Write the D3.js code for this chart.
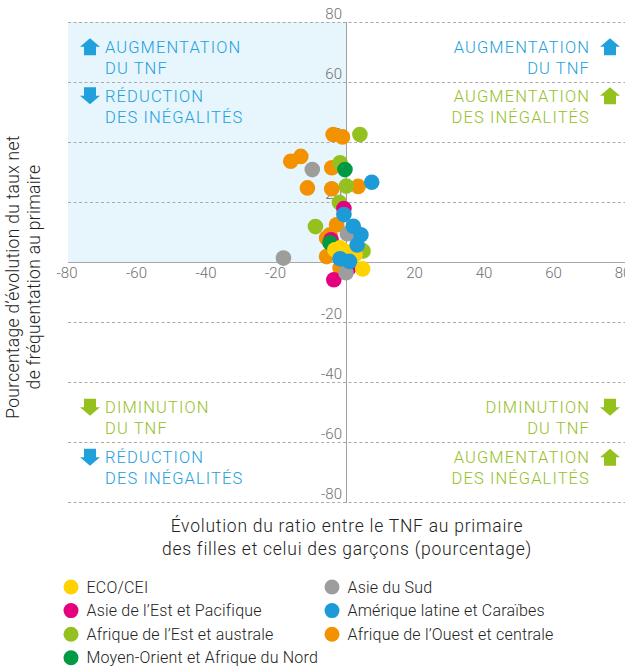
<!DOCTYPE html>
<html>
	<head>
		<meta charset="utf-8">
		<style>
			body, html { margin: 0; padding: 0; background: #fff; }
			text { font-family: Roboto, 'Open Sans', sans-serif; }
		</style>
	</head>
	<body>
		<svg id="svg" width="625" height="666"></svg>

		<script src="https://d3js.org/d3.v7.min.js"></script>
		<script>
			// ticks
			const xTicks = [-80, -60, -40, -20, 20, 40, 60, 80];
			const yTicks = [80, 60, 40, 20, -20, -40, -60, -80];

			// regions (legend order) and colours
			const regions = [
				'ECO/CEI',
				'Asie de l\u2019Est et Pacifique',
				'Afrique de l\u2019Est et australe',
				'Moyen-Orient et Afrique du Nord',
				'Asie du Sud',
				'Amérique latine et Caraïbes',
				'Afrique de l\u2019Ouest et centrale'
			];
			const colors = ['#ffd200', '#e5007e', '#95c11f', '#009a44', '#9d9d9c', '#1d9bd7', '#f39200'];

			// points per region: [change in gender ratio, change in net attendance]
			const ecoCei = [[-3.2, 4.1], [2.6, 2.4], [4.8, -2.3], [-1.7, 4.7], [0.3, 3.4]];
			const asieEstPacifique = [[-0.6, 17.8], [-3.5, -5.9], [-4.3, 7.4], [0.9, -1.9]];
			const afriqueEstAustrale = [[4.0, 42.5], [-1.7, 33.1], [0.1, 25.3], [-1.9, 19.8], [-8.8, 11.8], [4.9, 3.7]];
			const moyenOrient = [[-0.3, 30.8], [-4.6, 6.4]];
			const asieSud = [[-9.7, 30.8], [-18.0, 1.3], [0.4, 9.4], [0.0, -3.6]];
			const ameriqueLatine = [[7.4, 26.6], [-0.6, 15.8], [2.1, 11.9], [4.3, 9.1], [3.2, 5.7], [-1.7, 1.1], [1.0, 0.2]];
			const afriqueOuest = [[-3.7, 42.5], [-1.0, 41.7], [-15.9, 33.6], [-13.0, 35.2], [-4.1, 31.4], [-11.1, 24.7],
				[-4.1, 24.4], [3.5, 25.2], [-2.7, 12.4], [-4.6, 9.1], [-5.6, 8.0], [-5.6, 1.8], [-1.7, -1.9]];

			const seriesData = [ecoCei, asieEstPacifique, afriqueEstAustrale, moyenOrient, asieSud, ameriqueLatine, afriqueOuest];
			// drawing order (back to front)
			const drawOrder = [6, 2, 1, 4, 3, 0, 5];

			// quadrant annotations
			const quadrantLabels = [
				{ side: 'left', y0: 52.7, lines: ['AUGMENTATION', 'DU TNF'], color: 'blue', arrow: 'up' },
				{ side: 'left', y0: 101.7, lines: ['RÉDUCTION', 'DES INÉGALITÉS'], color: 'blue', arrow: 'down' },
				{ side: 'right', y0: 52.7, lines: ['AUGMENTATION', 'DU TNF'], color: 'blue', arrow: 'up' },
				{ side: 'right', y0: 101.7, lines: ['AUGMENTATION', 'DES INÉGALITÉS'], color: 'green', arrow: 'up' },
				{ side: 'left', y0: 413.3, lines: ['DIMINUTION', 'DU TNF'], color: 'green', arrow: 'down' },
				{ side: 'left', y0: 463.3, lines: ['RÉDUCTION', 'DES INÉGALITÉS'], color: 'blue', arrow: 'down' },
				{ side: 'right', y0: 413.3, lines: ['DIMINUTION', 'DU TNF'], color: 'green', arrow: 'down' },
				{ side: 'right', y0: 463.3, lines: ['AUGMENTATION', 'DES INÉGALITÉS'], color: 'green', arrow: 'up' }
			];
			const labelColors = { blue: '#22a0dc', green: '#95c11f' };

			const svg = d3.select('#svg');
			const plotLeft = 68, plotRight = 624, plotTop = 22, plotBottom = 502;

			const xscale = d3.scaleLinear().domain([-80, 80]).range([plotLeft, plotRight]);
			const yscale = d3.scaleLinear().domain([-80, 80]).range([plotBottom, plotTop]);

			// shaded quadrant (more attendance, less inequality)
			svg.append('rect')
				.attr('x', xscale(-80))
				.attr('y', yscale(80))
				.attr('width', xscale(0) - xscale(-80))
				.attr('height', yscale(0) - yscale(80))
				.attr('fill', '#e7f5fd');

			// dashed horizontal grid
			svg.append('g')
				.selectAll('line')
				.data(yTicks)
				.enter()
				.append('line')
				.attr('x1', plotLeft)
				.attr('x2', 625)
				.attr('y1', (d) => yscale(d) + 0.5)
				.attr('y2', (d) => yscale(d) + 0.5)
				.attr('stroke', '#aaa')
				.attr('stroke-width', 1)
				.attr('stroke-dasharray', '3,2.5');

			// axes through the origin
			svg.append('line')
				.attr('x1', plotLeft).attr('x2', 625)
				.attr('y1', yscale(0) + 0.5).attr('y2', yscale(0) + 0.5)
				.attr('stroke', '#a8a8a8');
			svg.append('line')
				.attr('x1', xscale(0) + 0.5).attr('x2', xscale(0) + 0.5)
				.attr('y1', plotTop).attr('y2', plotBottom + 1)
				.attr('stroke', '#a0a0a0');

			// tick labels
			svg.append('g')
				.selectAll('text')
				.data(xTicks)
				.enter()
				.append('text')
				.attr('x', (d) => xscale(d) - 1)
				.attr('y', yscale(0) + 16)
				.attr('text-anchor', 'middle')
				.attr('font-size', 15)
				.attr('font-weight', 300)
				.attr('fill', '#707070')
				.text((d) => d);
			svg.append('g')
				.selectAll('text')
				.data(yTicks)
				.enter()
				.append('text')
				.attr('x', xscale(0) - 4)
				.attr('y', (d) => yscale(d) - 3)
				.attr('text-anchor', 'end')
				.attr('font-size', 15)
				.attr('font-weight', 300)
				.attr('fill', '#707070')
				.text((d) => d);

			// quadrant labels with arrows
			const arrowPath = (cx, cy, dir) => {
				// house-shaped arrow, 20 wide, 17 tall, centred at cx,cy
				const s = dir === 'up' ? 1 : -1;
				const p = [[0, -8.5], [10, 0], [6, 0], [6, 8.5], [-6, 8.5], [-6, 0], [-10, 0]];
				return 'M' + p.map(([dx, dy]) => `${cx + dx},${cy + s * dy}`).join('L') + 'Z';
			};
			quadrantLabels.forEach((q) => {
				const col = labelColors[q.color];
				const g = svg.append('g');
				q.lines.forEach((line, i) => {
					g.append('text')
						.attr('x', q.side === 'left' ? 105 : 590)
						.attr('y', q.y0 + i * 20.8)
						.attr('text-anchor', q.side === 'left' ? 'start' : 'end')
						.attr('font-size', 16.5)
						.attr('font-weight', 300)
						.attr('letter-spacing', 1.1)
						.attr('fill', col)
						.text(line);
				});
				g.append('path')
					.attr('d', arrowPath(q.side === 'left' ? 90 : 610, q.y0 - 6, q.arrow))
					.attr('fill', col);
			});

			// scatter points
			const pointsG = svg.append('g');
			drawOrder.forEach((i) => {
				pointsG.append('g')
					.selectAll('circle')
					.data(seriesData[i])
					.enter()
					.append('circle')
					.attr('cx', (d) => xscale(d[0]))
					.attr('cy', (d) => yscale(d[1]))
					.attr('r', 7.8)
					.attr('fill', colors[i]);
			});

			// axis titles
			const yTitle = svg.append('text')
				.attr('transform', 'translate(0,277) rotate(-90)')
				.attr('text-anchor', 'middle')
				.attr('font-size', 17.5)
				.attr('font-weight', 300)
				.attr('letter-spacing', 0.3)
				.attr('fill', '#222');
			yTitle.append('tspan').attr('x', 0).attr('y', 19).text('Pourcentage d\u2019évolution du taux net');
			yTitle.append('tspan').attr('x', 0).attr('y', 40).text('de fréquentation au primaire');

			const xTitle = svg.append('text')
				.attr('text-anchor', 'middle')
				.attr('font-size', 17.5)
				.attr('font-weight', 300)
				.attr('letter-spacing', 0.75)
				.attr('fill', '#222');
			xTitle.append('tspan').attr('x', 347).attr('y', 532).text('Évolution du ratio entre le TNF au primaire');
			xTitle.append('tspan').attr('x', 347).attr('y', 555).text('des filles et celui des garçons (pourcentage)');

			// legend in two columns
			const legendPos = [[0, 0], [0, 1], [0, 2], [0, 3], [1, 0], [1, 1], [1, 2]];
			const legend = svg.append('g')
				.selectAll('g')
				.data(regions)
				.enter()
				.append('g')
				.attr('transform', (d, i) => `translate(${legendPos[i][0] === 0 ? 71 : 332},${587 + legendPos[i][1] * 23.6})`);
			legend.append('circle')
				.attr('r', 7.5)
				.attr('fill', (d, i) => colors[i]);
			legend.append('text')
				.attr('x', 15.5)
				.attr('y', 5.5)
				.attr('font-size', 16)
				.attr('font-weight', 300)
				.attr('letter-spacing', 0.2)
				.attr('fill', '#222')
				.text((d) => d);
		</script>
	</body>
</html>
